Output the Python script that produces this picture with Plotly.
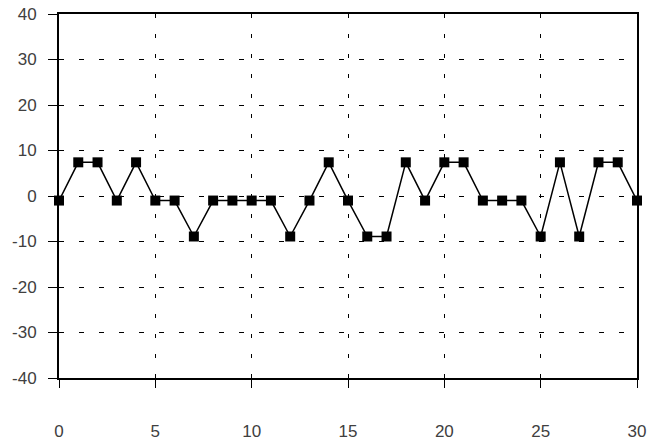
import plotly.graph_objects as go

x_vals = list(range(0, 31))
y_vals = [-1, 7.4, 7.4, -1, 7.4, -1, -1, -8.9, -1, -1, -1, -1, -8.9, -1, 7.4, -1,
          -8.9, -8.9, 7.4, -1, 7.4, 7.4, -1, -1, -1, -8.9, 7.4, -8.9, 7.4, 7.4, -1]
x_ticks = [0, 5, 10, 15, 20, 25, 30]
y_ticks = [-40, -30, -20, -10, 0, 10, 20, 30, 40]

fig = go.Figure()
fig.add_trace(go.Scatter(
    x=x_vals, y=y_vals, mode="lines+markers",
    line=dict(color="black", width=1.5),
    marker=dict(symbol="square", size=10, color="black"),
    cliponaxis=False, showlegend=False,
))

tick_font = dict(family="Liberation Sans, Arial, sans-serif", size=17, color="#404040")

fig.update_layout(
    width=650, height=441,
    margin=dict(l=59, r=13, t=14, b=63),
    paper_bgcolor="white", plot_bgcolor="white",
    xaxis=dict(
        range=[0, 30], tickvals=x_ticks, ticktext=[str(v) for v in x_ticks],
        showgrid=True, gridcolor="black", gridwidth=1, griddash="4px,16px",
        zeroline=False, showline=True, linecolor="black", linewidth=1.5, mirror=True,
        ticks="outside", ticklen=8, tickcolor="black", tickwidth=1,
        tickfont=tick_font, ticklabelstandoff=29, automargin=False,
        ticklabeloverflow="allow",
    ),
    yaxis=dict(
        range=[-40, 40], tickvals=y_ticks, ticktext=[str(v) for v in y_ticks],
        showgrid=True, gridcolor="black", gridwidth=1, griddash="5px,15px",
        zeroline=False, showline=True, linecolor="black", linewidth=2, mirror=True,
        ticks="outside", ticklen=9, tickcolor="black", tickwidth=1,
        tickfont=tick_font, ticklabelstandoff=8, automargin=False,
        ticklabeloverflow="allow",
    ),
)

fig.write_html(
    "out.html",
    config={"displayModeBar": False},
    post_script="document.body.style.margin='0';document.body.style.overflow='hidden';",
)
